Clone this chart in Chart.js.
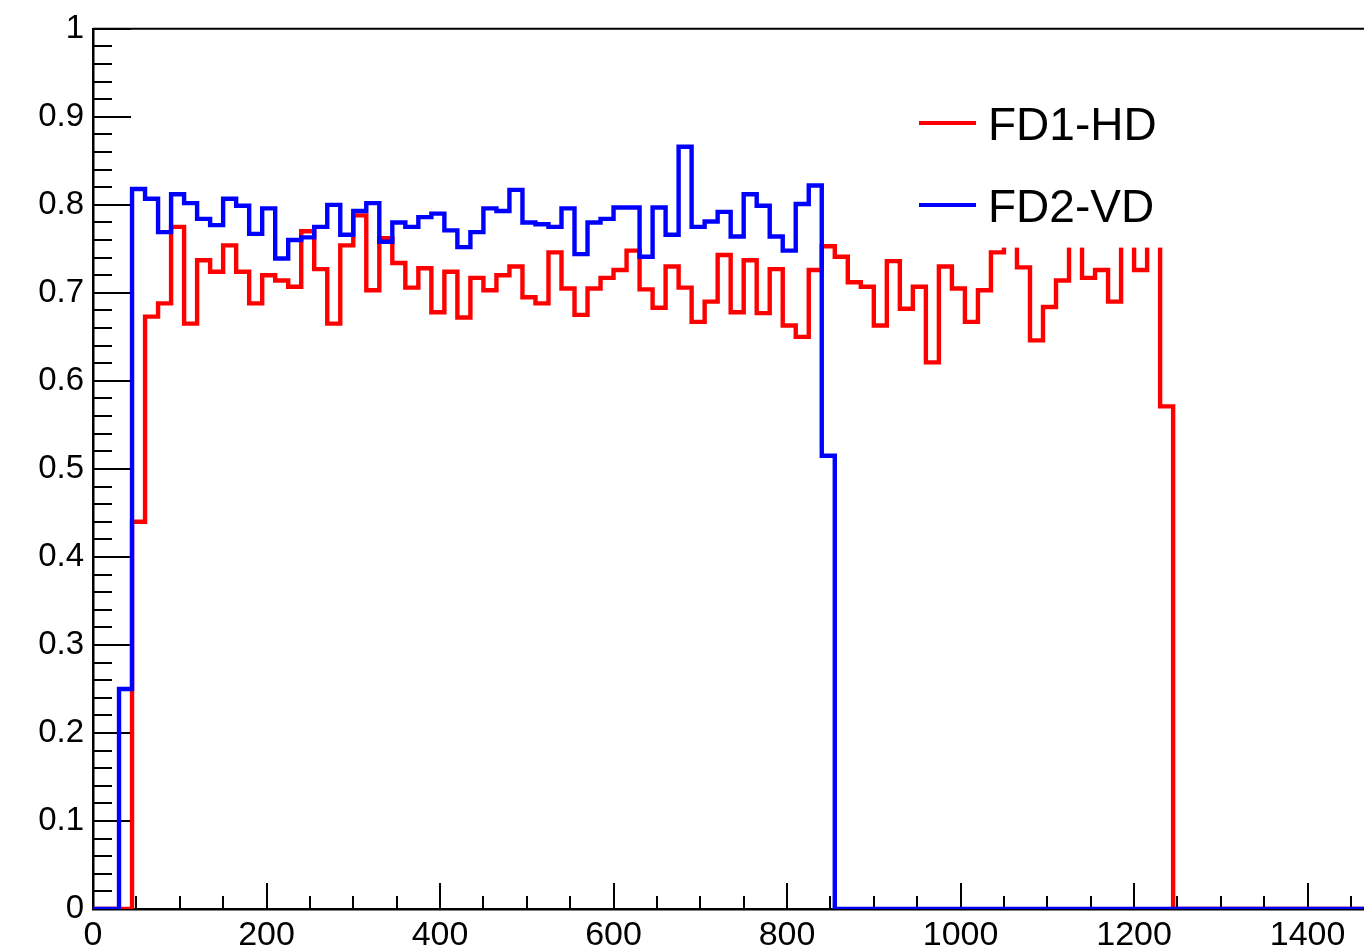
<!DOCTYPE html>
<html>
<head>
<meta charset="utf-8">
<title>FD1-HD / FD2-VD</title>
<script src="https://cdn.jsdelivr.net/npm/chart.js@4.4.1/dist/chart.umd.min.js"></script>
<style>
    html, body { margin: 0; padding: 0; background: #fff; }
    #plot { display: block; }
</style>
</head>
<body>
<canvas id="plot" width="1364" height="951"></canvas>
<script>
// Binning: 15 units per bin, starting at 0
const binWidth = 15;

// FD1-HD contents, one value per bin
const fd1hd = [
    0, 0, 0, 0.44, 0.673, 0.688, 0.775, 0.665, 0.737, 0.724,
    0.754, 0.724, 0.688, 0.720, 0.714, 0.707, 0.770, 0.727, 0.665, 0.754,
    0.788, 0.703, 0.762, 0.734, 0.706, 0.728, 0.678, 0.724, 0.672, 0.717,
    0.703, 0.720, 0.730, 0.695, 0.688, 0.746, 0.705, 0.675, 0.705, 0.717,
    0.726, 0.748, 0.704, 0.683, 0.730, 0.706, 0.667, 0.690, 0.743, 0.678,
    0.737, 0.677, 0.727, 0.663, 0.650, 0.726, 0.753, 0.741, 0.712, 0.707,
    0.663, 0.736, 0.682, 0.707, 0.621, 0.730, 0.705, 0.667, 0.703, 0.746,
    0.760, 0.729, 0.646, 0.684, 0.714, 0.770, 0.717, 0.726, 0.690, 0.760,
    0.726, 0.775, 0.571, 0, 0, 0, 0, 0, 0, 0,
    0, 0, 0, 0, 0, 0, 0, 0, 0, 0
];

// FD2-VD contents, one value per bin
const fd2vd = [
    0, 0, 0.25, 0.818, 0.807, 0.769, 0.812, 0.802, 0.784, 0.777,
    0.807, 0.799, 0.767, 0.796, 0.739, 0.760, 0.763, 0.775, 0.800, 0.766,
    0.793, 0.802, 0.758, 0.780, 0.775, 0.786, 0.790, 0.771, 0.752, 0.769,
    0.796, 0.793, 0.817, 0.780, 0.778, 0.775, 0.796, 0.744, 0.780, 0.784,
    0.797, 0.797, 0.741, 0.797, 0.766, 0.866, 0.775, 0.781, 0.792, 0.764,
    0.812, 0.799, 0.764, 0.748, 0.801, 0.822, 0.515, 0, 0, 0,
    0, 0, 0, 0, 0, 0, 0, 0, 0, 0,
    0, 0, 0, 0, 0, 0, 0, 0, 0, 0,
    0, 0, 0, 0, 0, 0, 0, 0, 0, 0,
    0, 0, 0, 0, 0, 0, 0, 0, 0, 0
];

const xTickValues = [0, 200, 400, 600, 800, 1000, 1200, 1400];
const xTickLabels = ['0', '200', '400', '600', '800', '1000', '1200', '1400'];
const yTickValues = [0, 0.1, 0.2, 0.3, 0.4, 0.5, 0.6, 0.7, 0.8, 0.9, 1];
const yTickLabels = ['0', '0.1', '0.2', '0.3', '0.4', '0.5', '0.6', '0.7', '0.8', '0.9', '1'];

const FONT = "'Liberation Sans', Arial, Helvetica, sans-serif";

// one point per low bin edge, plus the closing high edge of the last bin
function histPoints(values) {
    const pts = values.map((v, i) => ({ x: i * binWidth, y: v }));
    pts.push({ x: values.length * binWidth, y: values[values.length - 1] });
    return pts;
}

// ROOT style frame: top line + inward major/minor ticks
const rootFrame = {
    id: 'rootFrame',
    beforeDatasetsDraw(chart) {
        const { ctx, chartArea: a, scales: { x, y } } = chart;
        ctx.save();
        ctx.strokeStyle = '#000';
        ctx.lineWidth = 2;
        ctx.beginPath();
        ctx.moveTo(a.left, a.top);
        ctx.lineTo(a.right, a.top);
        for (let v = 0; v <= x.max; v += 50) {
            const px = Math.round(x.getPixelForValue(v));
            const len = v % 200 === 0 ? 26 : 13;
            ctx.moveTo(px, a.bottom);
            ctx.lineTo(px, a.bottom - len);
        }
        for (let k = 0; k <= 50; k++) {
            const py = Math.round(y.getPixelForValue(k * 0.02));
            const len = k % 5 === 0 ? 38 : 19;
            ctx.moveTo(a.left, py);
            ctx.lineTo(a.left + len, py);
        }
        ctx.stroke();
        ctx.restore();
    }
};

// opaque legend pad drawn over the curves, like a TLegend
const legendPad = {
    id: 'legendPad',
    afterDatasetsDraw(chart) {
        const { ctx } = chart;
        ctx.save();
        ctx.fillStyle = '#fff';
        ctx.fillRect(905, 50, 330, 197.6);
        chart.data.datasets.forEach((ds, i) => {
            const yc = 123 + i * 82;
            ctx.strokeStyle = ds.borderColor;
            ctx.lineWidth = 4;
            ctx.beginPath();
            ctx.moveTo(919, yc);
            ctx.lineTo(976, yc);
            ctx.stroke();
            ctx.fillStyle = '#000';
            ctx.font = '46px ' + FONT;
            ctx.textBaseline = 'alphabetic';
            ctx.fillText(ds.label, 988, 140 + i * 82);
        });
        ctx.restore();
    }
};

new Chart(document.getElementById('plot'), {
    type: 'line',
    data: {
        datasets: [
            { label: 'FD1-HD', data: histPoints(fd1hd), borderColor: '#ff0000', order: 1 },
            { label: 'FD2-VD', data: histPoints(fd2vd), borderColor: '#0000ff', order: 0 }
        ]
    },
    options: {
        responsive: false,
        animation: false,
        devicePixelRatio: 1,
        datasets: {
            line: {
                stepped: true, borderWidth: 4.4, pointRadius: 0, fill: false, tension: 0,
                borderJoinStyle: 'miter', borderCapStyle: 'butt'
            }
        },
        layout: { padding: { top: 26, right: 0, bottom: 0, left: 0 } },
        plugins: { legend: { display: false }, tooltip: { enabled: false } },
        scales: {
            x: {
                type: 'linear', min: 0, max: 1465,
                grid: { display: false, drawTicks: false },
                border: { display: true, color: '#000', width: 2.5 },
                afterBuildTicks: s => { s.ticks = xTickValues.map(v => ({ value: v })); },
                afterFit: s => { s.height = 42; },
                ticks: {
                    padding: 6, maxRotation: 0, autoSkip: false, color: '#000',
                    font: { family: FONT, size: 34 },
                    callback: (v, i) => xTickLabels[i]
                }
            },
            y: {
                min: 0, max: 1,
                grid: { display: false, drawTicks: false },
                border: { display: true, color: '#000', width: 2.5 },
                afterBuildTicks: s => { s.ticks = yTickValues.map(v => ({ value: v })); },
                afterFit: s => { s.width = 93; },
                ticks: {
                    padding: 9, autoSkip: false, color: '#000',
                    font: { family: FONT, size: 33 },
                    callback: (v, i) => yTickLabels[i]
                }
            }
        }
    },
    plugins: [rootFrame, legendPad]
});
</script>
</body>
</html>
